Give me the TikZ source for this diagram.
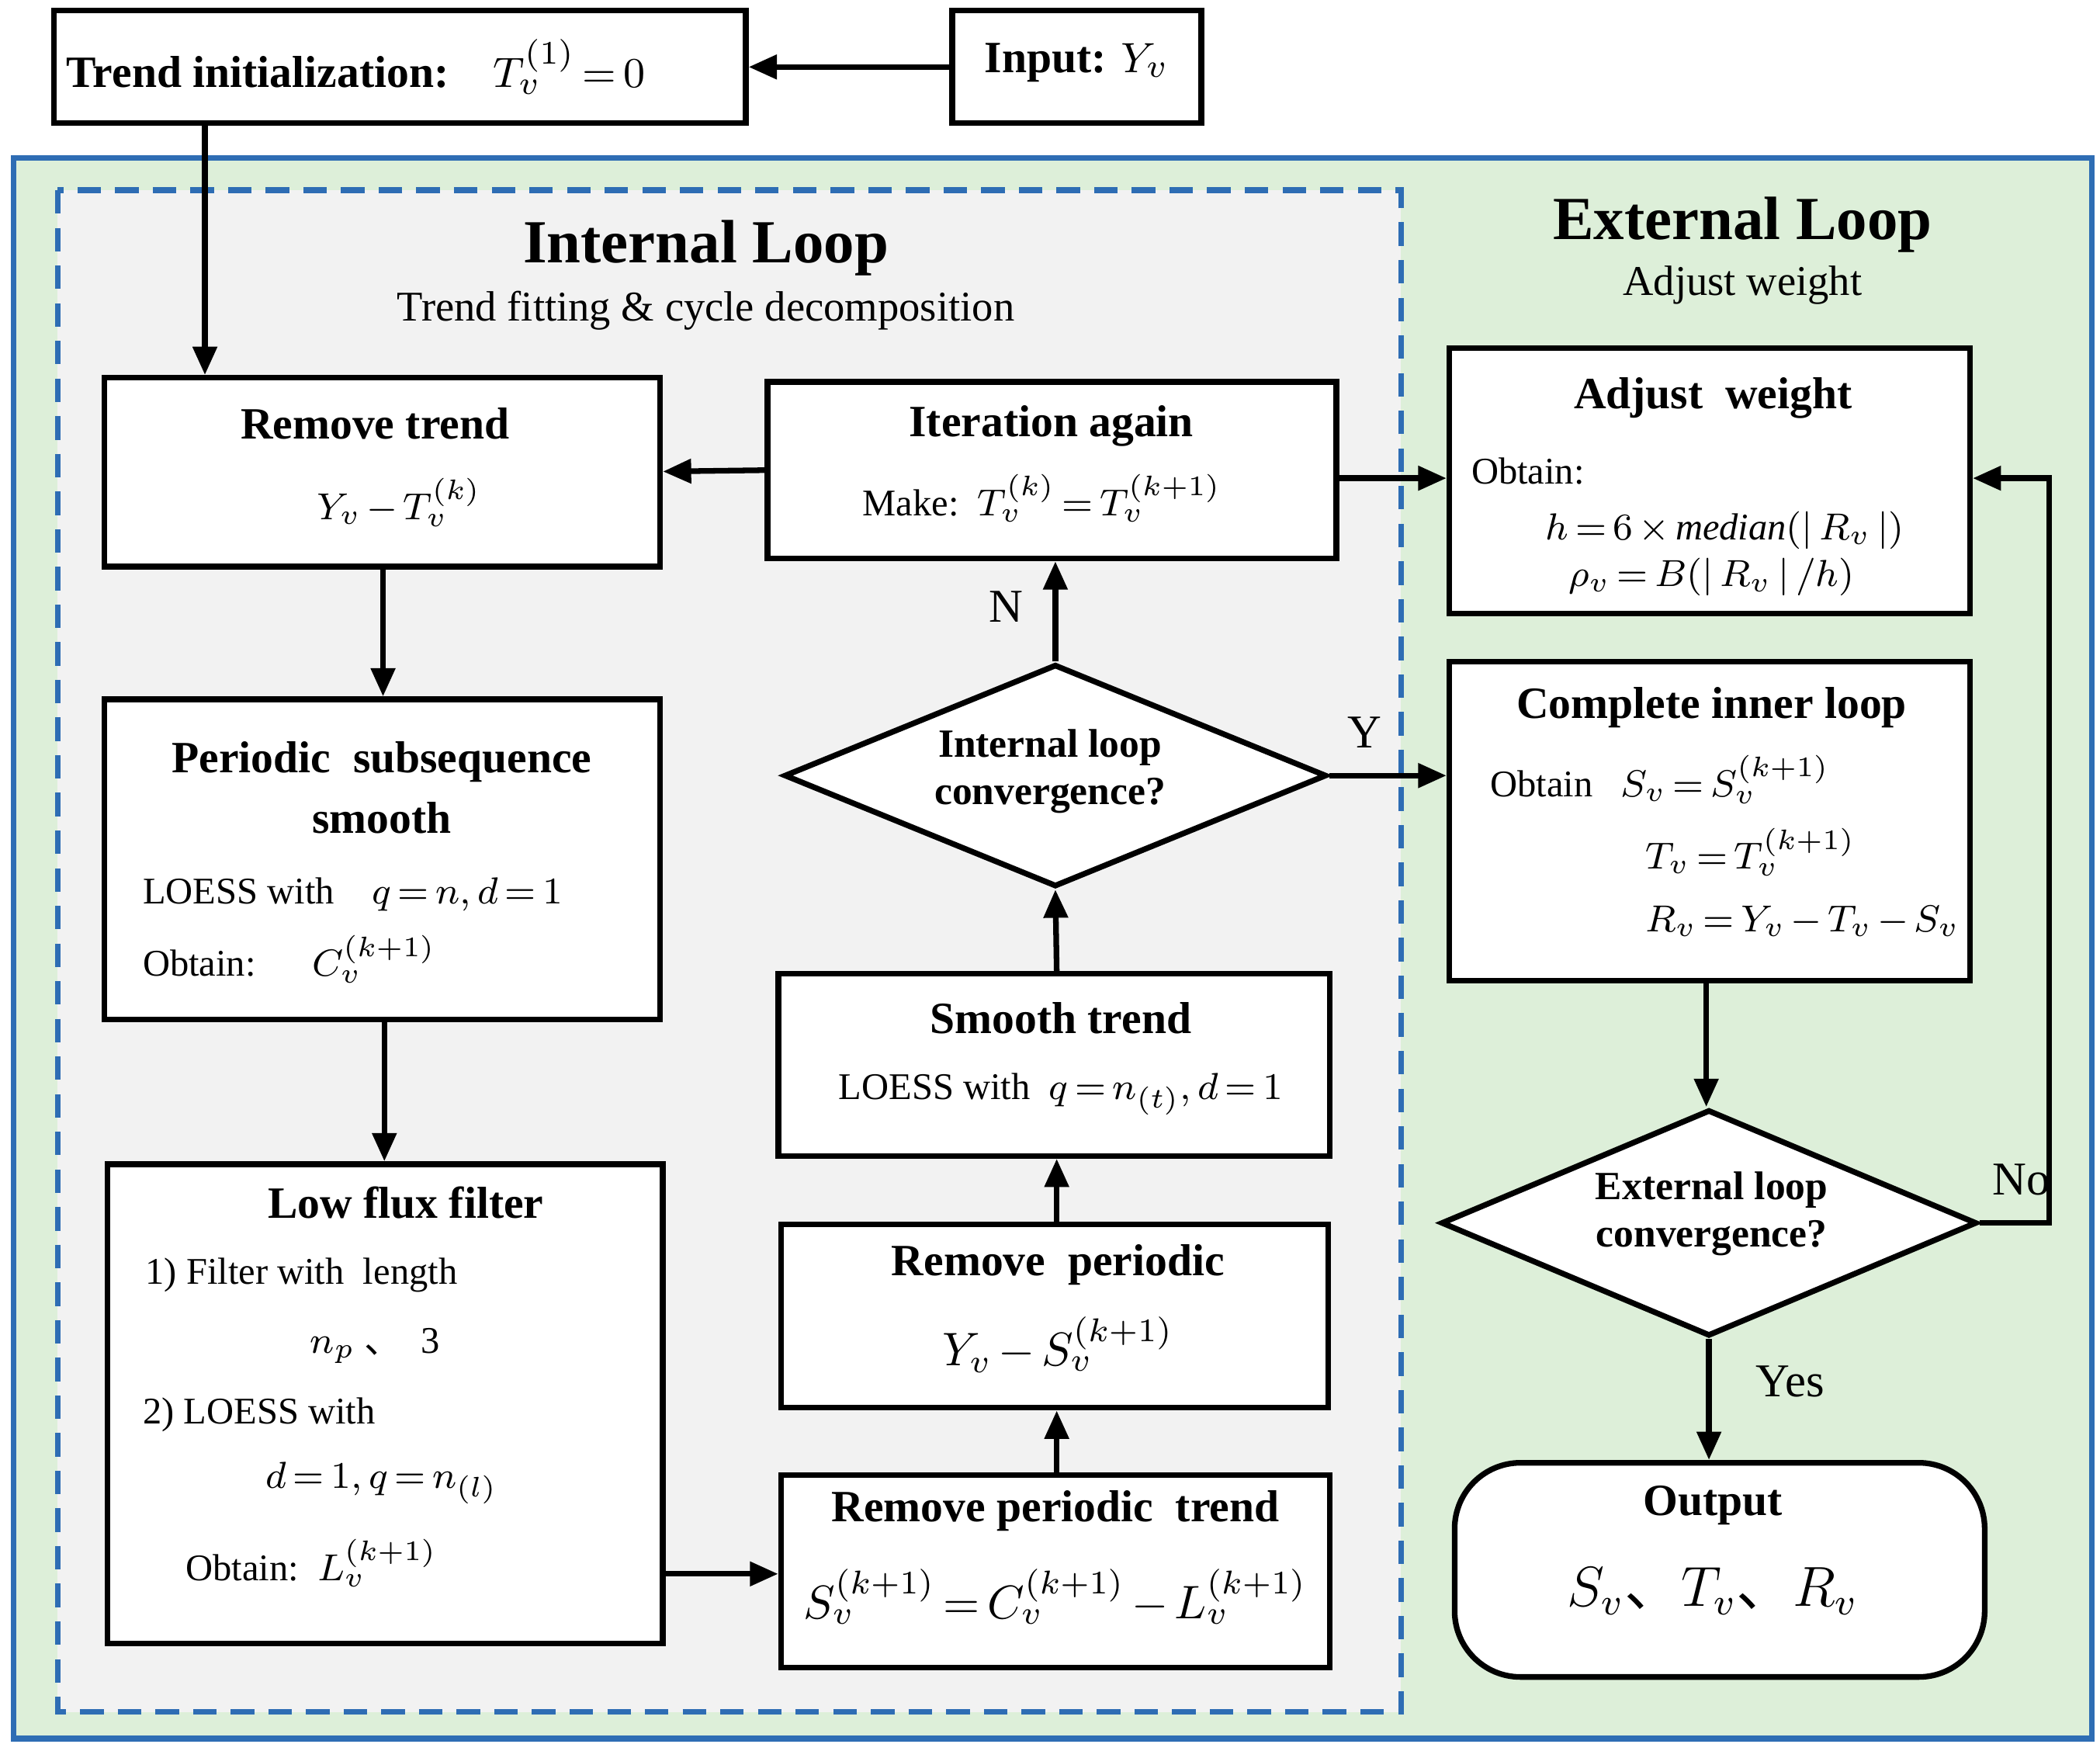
\documentclass[tikz,border=0pt]{standalone}
\usepackage{fontspec}
\setmainfont{Liberation Serif}
\newfontfamily\cjk{Noto Sans CJK SC}
\newcommand\dun{{\cjk 、}}
\thickmuskip=3mu plus 2mu
\medmuskip=2.5mu plus 1mu
\usetikzlibrary{shapes.geometric,arrows.meta}
\newcommand\bx[6][]{\node[#1,minimum width={(#4-#2)*0.01cm},minimum height={(#5-#3)*0.01cm}] (#6) at ({(#2+#4)/200},{-(#3+#5)/200}) {};}
\begin{document}
\begin{tikzpicture}[
  box/.style={draw,line width=1.2pt,fill=white,inner sep=0},
  dia/.style={draw,line width=1.2pt,fill=white,diamond,inner sep=0,aspect=2.4},
  txt/.style={inner sep=0,font=\fontsize{8}{9}\selectfont},
  ttl/.style={inner sep=0,font=\fontsize{9.5}{11}\selectfont\bfseries},
  arr/.style={-{Triangle[length=6pt,width=5pt]},line width=1.2pt}]
\useasboundingbox (0,0) rectangle (15.68,-13.07);
\definecolor{gbg}{HTML}{DDEFD9}
\definecolor{gbd}{HTML}{2E6DB4}
\fill[gbg,draw=gbd,line width=1.2pt] (0.10,-1.18) rectangle (15.62,-12.98);
\fill[gray!10,draw=gbd,line width=1.2pt,dash pattern=on 5pt off 3pt] (0.43,-1.42) rectangle (10.46,-12.78);
\node[font=\fontsize{13}{15}\selectfont\bfseries,inner sep=0] (il) at (5.27,-1.85) {Internal Loop};
\node[font=\fontsize{9}{10}\selectfont,inner sep=0] (ils) at (5.27,-2.32) {Trend fitting \& cycle decomposition};
\node[font=\fontsize{13}{15}\selectfont\bfseries,inner sep=0] (el) at (13.01,-1.68) {External Loop};
\node[font=\fontsize{9}{10}\selectfont,inner sep=0] (els) at (13.01,-2.13) {Adjust weight};
% boxes
\bx[box]{40}{8}{557}{92}{ti}
\bx[box]{711}{8}{897}{92}{in}
\bx[box]{78}{282}{493}{423}{rt}
\bx[box]{573}{285}{998}{417}{ia}
\bx[box]{1082}{260}{1471}{458}{aw}
\bx[box]{78}{522}{493}{761}{ps}
\node[dia,minimum width=4.05cm,minimum height=1.66cm] (d1) at (7.88,-5.79) {};
\bx[box]{1082}{494}{1471}{732}{ci}
\bx[box]{581}{727}{993}{863}{st}
\node[dia,minimum width=4.0cm,minimum height=1.69cm] (d2) at (12.76,-9.13) {};
\bx[box]{80}{869}{495}{1227}{lf}
\bx[box]{583}{914}{992}{1051}{rp}
\bx[box]{583}{1101}{993}{1245}{rpt}
\bx[box,rounded corners=14pt]{1086}{1092}{1482}{1252}{out}
% texts
\node[ttl,anchor=west] (tit) at (0.49,-0.50) {Trend initialization:\quad $T_v^{(1)}=0$};
\node[ttl] (int) at (8.04,-0.47) {Input: $Y_v$};
\node[ttl] (t1) at (2.80,-3.16) {Remove trend};
\node[txt] (t1b) at (2.98,-3.75) {$Y_v-T_v^{(k)}$};
\node[ttl] (t2) at (7.85,-3.18) {Iteration again};
\node[txt] (t2b) at (7.78,-3.72) {Make:\ \ $T_v^{(k)}=T_v^{(k+1)}$};
\node[ttl] (t3) at (12.79,-2.97) {Adjust\ \ weight};
\node[txt,anchor=west] (t3b) at (10.98,-3.52) {Obtain:};
\node[txt] (t3c) at (12.88,-3.96) {$h=6\times \mathit{median}(|\,R_v\,|)$};
\node[txt] (t3d) at (12.78,-4.31) {$\rho_v=B(|\,R_v\,|\,/h)$};
\node[ttl,align=center] (t4) at (2.85,-5.88) {Periodic\ \ subsequence\\[2pt]smooth};
\node[txt,anchor=west] (t4b) at (1.06,-6.68) {LOESS with\quad $q=n,d=1$};
\node[txt,anchor=west] (t4c) at (1.06,-7.16) {Obtain:\quad\ \ $C_v^{(k+1)}$};
\node[txt,align=center,font=\fontsize{8.5}{10}\selectfont\bfseries] (t5) at (7.84,-5.76) {Internal loop\\convergence?};
\node[ttl] (t6) at (12.78,-5.28) {Complete inner loop};
\node[txt,anchor=west] (t6b) at (11.12,-5.82) {Obtain\ \ \ $S_v=S_v^{(k+1)}$};
\node[txt,anchor=west] (t6c) at (12.28,-6.36) {$T_v=T_v^{(k+1)}$};
\node[txt,anchor=west] (t6d) at (12.28,-6.88) {$R_v=Y_v-T_v-S_v$};
\node[ttl] (t7) at (7.92,-7.60) {Smooth trend};
\node[txt] (t7b) at (7.92,-8.17) {LOESS with\ \ $q=n_{(t)},d=1$};
\node[txt,align=center,font=\fontsize{8.5}{10}\selectfont\bfseries] (t8) at (12.78,-9.06) {External loop\\convergence?};
\node[ttl] (t9) at (3.03,-8.98) {Low flux filter};
\node[txt,anchor=west] (t9b) at (1.08,-9.52) {1) Filter with\ \ length};
\node[txt] (t9c) at (2.80,-10.05) {$n_p$\ \dun\ \ 3};
\node[txt,anchor=west] (t9d) at (1.06,-10.56) {2) LOESS with};
\node[txt] (t9e) at (2.85,-11.07) {$d=1,q=n_{(l)}$};
\node[txt,anchor=west] (t9f) at (1.38,-11.67) {Obtain:\ \ $L_v^{(k+1)}$};
\node[ttl] (t10) at (7.90,-9.44) {Remove\ \ periodic};
\node[txt,font=\fontsize{10}{12}\selectfont] (t10b) at (7.90,-10.04) {$Y_v-S_v^{(k+1)}$};
\node[ttl] (t11) at (7.88,-11.28) {Remove\ periodic\ \ trend};
\node[txt,font=\fontsize{10}{12}\selectfont] (t11b) at (7.88,-11.92) {$S_v^{(k+1)}=C_v^{(k+1)}-L_v^{(k+1)}$};
\node[ttl] (t12) at (12.79,-11.24) {Output};
\node[txt,font=\fontsize{12}{14}\selectfont] (t12b) at (12.79,-11.88) {$S_v$\dun$T_v$\dun$R_v$};
% connectors
\draw[arr] (in.west) -- (ti.east);
\draw[arr] (ti.south -| 1.53,0) -- (rt.north -| 1.53,0);
\draw[arr] (rt.south -| 2.86,0) -- (ps.north -| 2.86,0);
\draw[arr] (ps.south -| 2.87,0) -- (lf.north -| 2.87,0);
\draw[arr] (lf.east |- 0,-11.75) -- (rpt.west |- 0,-11.75);
\draw[arr] (rpt.north -| 7.89,0) -- (rp.south -| 7.89,0);
\draw[arr] (rp.north -| 7.89,0) -- (st.south -| 7.89,0);
\draw[arr] (st.north -| 7.89,0) -- (d1.south);
\draw[arr] (d1.north) -- node[pos=0.55,left=3pt,font=\fontsize{10}{12}\selectfont] (ln) {N} (ia.south -| d1.north);
\draw[arr] (ia.west |- 0,-3.51) -- (rt.east |- 0,-3.52);
\draw[arr] (ia.east |- 0,-3.57) -- (aw.west |- 0,-3.57);
\draw[arr] (d1.east) -- node[pos=0.3,above=2pt,font=\fontsize{10}{12}\selectfont] (ly) {Y} (ci.west |- d1.east);
\draw[arr] (ci.south -| 12.74,0) -- (d2.north -| 12.74,0);
\coordinate (c1) at (15.30,-9.13);
\coordinate (c2) at (15.30,-3.57);
\draw[arr] (d2.east) -- node[pos=0.6,above=2pt,font=\fontsize{10}{12}\selectfont] (lno) {No} (c1) -- (c2) -- (aw.east |- c2);
\draw[arr] (d2.south) -- node[pos=0.35,right=6pt,font=\fontsize{10}{12}\selectfont] (lyes) {Yes} (out.north -| d2.south);
\end{tikzpicture}
\end{document}
